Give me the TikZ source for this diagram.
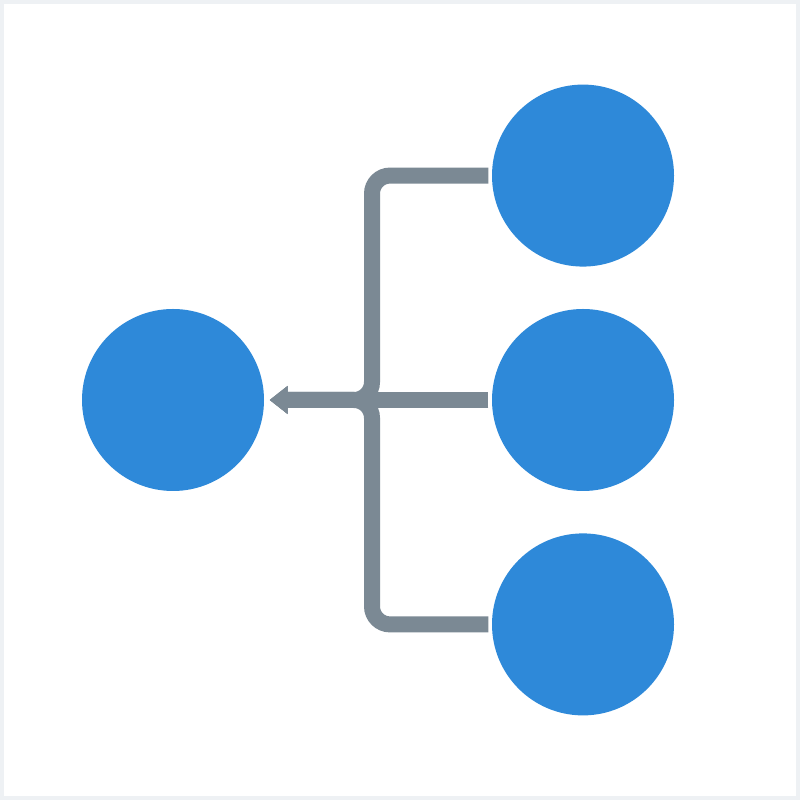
\documentclass[tikz,border=0pt]{standalone}
\usepackage{tikz}
\usetikzlibrary{positioning}
\usetikzlibrary{arrows.meta}

\definecolor{nodeblue}{HTML}{2E89D9}
\definecolor{linkgray}{HTML}{7B8994}
\definecolor{framegray}{HTML}{EEF1F4}

\begin{document}
\begin{tikzpicture}[
    leaf/.style={circle, fill=nodeblue, minimum size=1.82cm, inner sep=0pt},
    link/.style={draw=linkgray, line width=0.16cm, rounded corners=0.18cm, shorten <=0.03cm, shorten >=0.05cm, -{Triangle[length=0.18cm, width=0.27cm]}}
  ]
    % frame
    \fill [framegray] (0,0) rectangle (8,8);
    \fill [white] (0.04,0.04) rectangle (7.96,7.96);
    \useasboundingbox (0,0) rectangle (8,8);

    \node [leaf] (merge) at (1.73,4) {};
    \node [leaf] (inMid) at (5.83,4) {};
    \node [leaf] (inTop) [above=0.41cm of inMid] {};
    \node [leaf] (inBot) [below=0.41cm of inMid] {};

    \coordinate (hub) at (3.72,4);

    \draw [link] (inTop.west) -- (hub |- inTop) -- (hub) -- (merge.east);
    \draw [link] (inBot.west) -- (hub |- inBot) -- (hub) -- (merge.east);
    \draw [link] (inMid.west) -- (merge.east);
\end{tikzpicture}
\end{document}
